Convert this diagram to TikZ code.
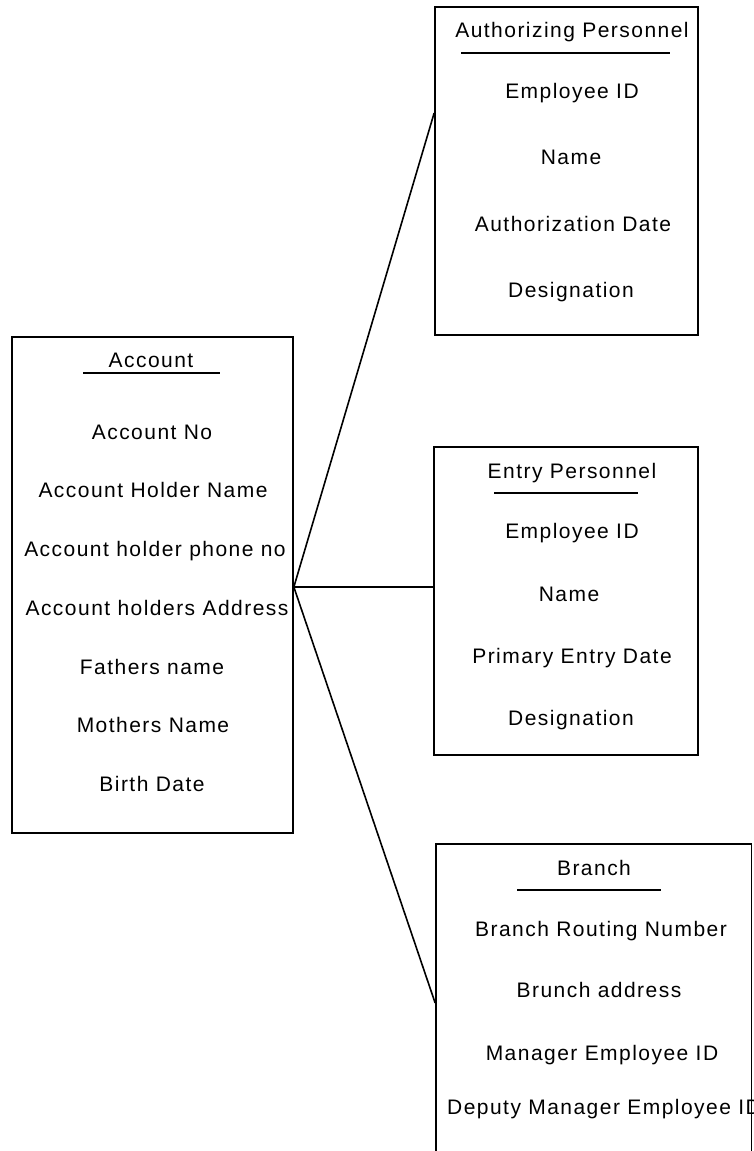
\documentclass[tikz,border=0pt]{standalone}
\usepackage{fontspec}
\setmainfont{Liberation Sans}[LetterSpace=7]
\usepackage{tikz}
\usetikzlibrary{calc,positioning}

\tikzset{
  entity/.style={draw=black, line width=1.7pt, inner sep=0pt},
  attr/.style={font=\fontsize{21}{25}\selectfont, inner sep=0pt, anchor=base},
  bar/.style={black, line width=1.7pt},
  link/.style={black, line width=1.6pt}
}

\begin{document}
\begin{tikzpicture}[x=1pt,y=-1pt]
    \useasboundingbox (0,0) rectangle (753,1151);

    % Account
    \node[entity, minimum width=281pt, minimum height=496pt] (account) at (152.5,585) {};
    \node[attr] (acctitle) at (151,367) {Account};
    \draw[bar] (83,373) -- (220,373);
    \node[attr] (accno) at (152,439) {Account No};
    \node[attr] (accname) at (153,497) {Account Holder Name};
    \node[attr] (accphone) at (155,556) {Account holder phone no};
    \node[attr] (accaddr) at (157,615) {Account holders Address};
    \node[attr] (accfather) at (152,674) {Fathers name};
    \node[attr] (accmother) at (153,732) {Mothers Name};
    \node[attr] (accbirth) at (152,791) {Birth Date};

    % Authorizing Personnel
    \node[entity, minimum width=263pt, minimum height=328pt] (auth) at (566.5,171) {};
    \node[attr] (authtitle) at (572,37) {Authorizing Personnel};
    \draw[bar] (461,53) -- (670,53);
    \node[attr] (authid) at (572,98) {Employee ID};
    \node[attr] (authname) at (571,164) {Name};
    \node[attr] (authdate) at (573,231) {Authorization Date};
    \node[attr] (authdesig) at (571,297) {Designation};

    % Entry Personnel
    \node[entity, minimum width=264pt, minimum height=308pt] (entry) at (566,601) {};
    \node[attr] (entrytitle) at (572,478) {Entry Personnel};
    \draw[bar] (494,493) -- (638,493);
    \node[attr] (entryid) at (572,538) {Employee ID};
    \node[attr] (entryname) at (569,601) {Name};
    \node[attr] (entrydate) at (572,663) {Primary Entry Date};
    \node[attr] (entrydesig) at (571,725) {Designation};

    % Branch
    \node[entity, minimum width=315.5pt, minimum height=326pt] (branch) at (593.75,1007) {};
    \node[attr] (brtitle) at (594,875) {Branch};
    \draw[bar] (517,890) -- (661,890);
    \node[attr] (brroute) at (601,936) {Branch Routing Number};
    \node[attr] (braddr) at (599,997) {Brunch address};
    \node[attr] (brmgr) at (602,1060) {Manager Employee ID};
    \node[attr] (brdeputy) at (604,1114) {Deputy Manager Employee ID};

    % relationships
    \coordinate (accjoin) at ($(account.east)+(0,2)$);
    \coordinate (authjoin) at ($(auth.west)+(0,-58)$);
    \coordinate (entryjoin) at ($(entry.west)+(0,-14)$);
    \coordinate (brjoin) at ($(branch.west)+(0,-4)$);
    \draw[link] (accjoin) -- (authjoin);
    \draw[link] (accjoin) -- (entryjoin);
    \draw[link] (accjoin) -- (brjoin);
\end{tikzpicture}
\end{document}
